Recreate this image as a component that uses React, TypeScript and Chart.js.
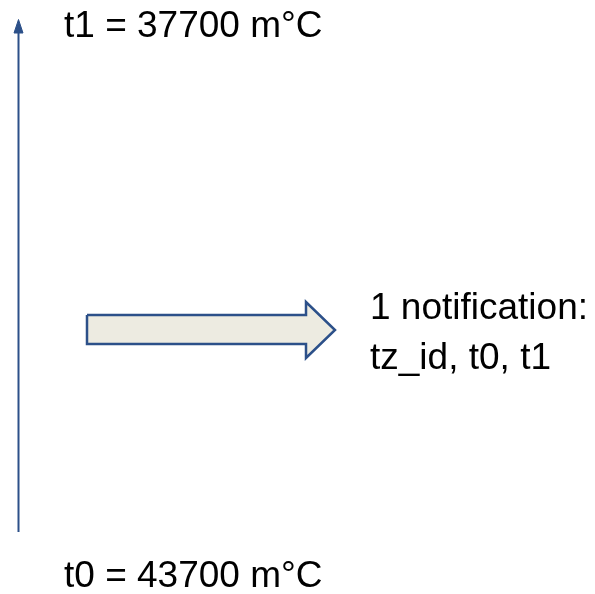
import React, { useEffect, useRef } from "react";
import { Chart, registerables } from "chart.js";

Chart.register(...registerables);

// Diagram coordinate space (x to the right, y downward)
const X_RANGE = [0, 595];
const Y_RANGE = [0, 594];

// Vertical temperature axis (from t0 at bottom to t1 at top)
const axisLineX = [18.5, 18.5];
const axisLineY = [532, 30];
const axisHeadX = [14, 18.5, 23, 14];
const axisHeadY = [33, 19.5, 33, 33];

// Block arrow pointing to the notification
const blockArrowX = [87, 306, 306, 335, 306, 306, 87, 87];
const blockArrowY = [315, 315, 302, 330, 358, 344, 344, 315];

// Text labels
const labelTexts = ["t1 = 37700 m°C", "t0 = 43700 m°C", "1 notification:", "tz_id, t0, t1"];
const labelX = [64, 64, 370, 370];
const labelY = [37, 587, 319, 369];

const BLUE = "#2C5089";
const ARROW_FILL = "#EDEBE1";

const toPoints = (xs: number[], ys: number[]) => xs.map((x, i) => ({ x, y: ys[i] }));

const textPlugin = {
  id: "diagramText",
  afterDatasetsDraw(chart: any) {
    const { ctx, scales } = chart;
    ctx.save();
    ctx.fillStyle = "#000000";
    ctx.font = '37px "Liberation Sans", Arial, sans-serif';
    ctx.textAlign = "left";
    ctx.textBaseline = "alphabetic";
    labelTexts.forEach((t, i) => {
      ctx.fillText(t, scales.x.getPixelForValue(labelX[i]), scales.y.getPixelForValue(labelY[i]));
    });
    ctx.restore();
  },
};

export default function App() {
  const ref = useRef<HTMLCanvasElement | null>(null);
  useEffect(() => {
    if (!ref.current) return;
    const chart = new Chart(ref.current, {
      type: "scatter",
      data: {
        datasets: [
          {
            data: toPoints(axisLineX, axisLineY),
            showLine: true,
            borderColor: BLUE,
            borderWidth: 2,
            pointRadius: 0,
            fill: false,
          },
          {
            data: toPoints(axisHeadX, axisHeadY),
            showLine: true,
            borderColor: BLUE,
            backgroundColor: BLUE,
            borderWidth: 1,
            pointRadius: 0,
            fill: "shape",
          },
          {
            data: toPoints(blockArrowX, blockArrowY),
            showLine: true,
            borderColor: BLUE,
            backgroundColor: ARROW_FILL,
            borderWidth: 2.5,
            borderJoinStyle: "miter",
            pointRadius: 0,
            fill: "shape",
          },
        ],
      },
      options: {
        responsive: false,
        animation: false,
        events: [],
        layout: { padding: 0 },
        plugins: { legend: { display: false }, tooltip: { enabled: false } },
        scales: {
          x: { type: "linear", display: false, min: X_RANGE[0], max: X_RANGE[1] },
          y: { type: "linear", display: false, min: Y_RANGE[0], max: Y_RANGE[1], reverse: true },
        },
      },
      plugins: [textPlugin],
    });
    return () => chart.destroy();
  }, []);
  return (
    <div style={{ position: "fixed", left: 0, top: 0, width: 595, height: 594, background: "#ffffff" }}>
      <canvas ref={ref} width={595} height={594} />
    </div>
  );
}
